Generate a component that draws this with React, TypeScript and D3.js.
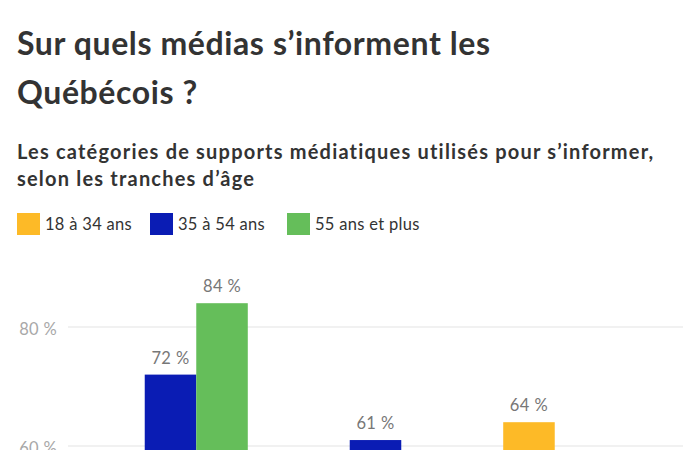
import React from 'react';
import * as d3 from 'd3';

// Categories of media (bottom of the chart is cropped in the reference)
const categories = ['Télévision', 'Internet', 'Médias sociaux'];
const seriesNames = ['18 à 34 ans', '35 à 54 ans', '55 ans et plus'];
const colors = ['#fdba27', '#0a1cb4', '#65be5a'];

const youngValues = [52, 55, 64];
const middleValues = [72, 61, 48];
const seniorValues = [84, 46, 31];

const yTicks = [0, 20, 40, 60, 80];

const W = 700;
const H = 450;

export default function App() {
  const values = [youngValues, middleValues, seniorValues];

  const x = d3.scaleBand<string>()
    .domain(categories)
    .range([68, 683])
    .paddingInner(0.246)
    .paddingOuter(0.123);

  const xInner = d3.scaleBand<string>()
    .domain(seriesNames)
    .range([0, x.bandwidth()]);

  // 60 % -> 446px, 80 % -> 327px
  const y = d3.scaleLinear().domain([60, 80]).range([446, 327]);

  // the reference is cropped at the bottom: skip labels that fall fully below it
  const visible = (ty: number) => ty - 14 < H;

  const font = 'Lato, "Noto Sans", sans-serif';

  return (
    <div style={{ position: 'fixed', left: 0, top: 0, width: W, height: H, background: '#fff' }}>
      <svg width={W} height={H} style={{ display: 'block', fontFamily: font }}>
        <rect width={W} height={H} fill="#fff" />

        {/* Title */}
        <text x={17} y={55} fontSize={32} fontWeight={700} fill="#333" letterSpacing={0.6}>
          Sur quels médias s’informent les
        </text>
        <text x={17} y={104} fontSize={32} fontWeight={700} fill="#333" letterSpacing={0.6}>
          Québécois ?
        </text>

        {/* Subtitle */}
        <text x={17} y={159} fontSize={20} fontWeight={700} fill="#333" letterSpacing={1.2}>
          Les catégories de supports médiatiques utilisés pour s’informer,
        </text>
        <text x={17} y={186} fontSize={20} fontWeight={700} fill="#333" letterSpacing={1.2}>
          selon les tranches d’âge
        </text>

        {/* Legend */}
        {seriesNames.map((name, i) => {
          const lx = [17, 150, 287][i];
          return (
            <g key={name} transform={`translate(${lx},213)`}>
              <rect width={23} height={22} fill={colors[i]} />
              <text x={28} y={17} fontSize={16.5} fill="#333" letterSpacing={0.3}>{name}</text>
            </g>
          );
        })}

        {/* Grid */}
        {yTicks.map(t => (
          <g key={t}>
            <line x1={68} x2={683} y1={y(t)} y2={y(t)} stroke="#e3e3e3" strokeWidth={1} />
            {visible(y(t) + 8) && (
              <text x={57} y={y(t) + 8} textAnchor="end" fontSize={16.5} fill="#a8a8a8" letterSpacing={0.3}>
                {`${t} %`}
              </text>
            )}
          </g>
        ))}

        {/* Bars */}
        {categories.map((cat, ci) => (
          <g key={cat} transform={`translate(${x(cat)},0)`}>
            {seriesNames.map((s, si) => {
              const v = values[si][ci];
              const bx = xInner(s)!;
              const bw = xInner.bandwidth();
              return (
                <g key={s}>
                  <rect x={bx} y={y(v)} width={bw} height={y(0) - y(v)} fill={colors[si]} />
                  {visible(y(v) - 11) && (
                    <text x={bx + bw / 2} y={y(v) - 11} textAnchor="middle" fontSize={16.5} fill="#777" letterSpacing={0.4}>
                      {`${v} %`}
                    </text>
                  )}
                </g>
              );
            })}
          </g>
        ))}
      </svg>
    </div>
  );
}
